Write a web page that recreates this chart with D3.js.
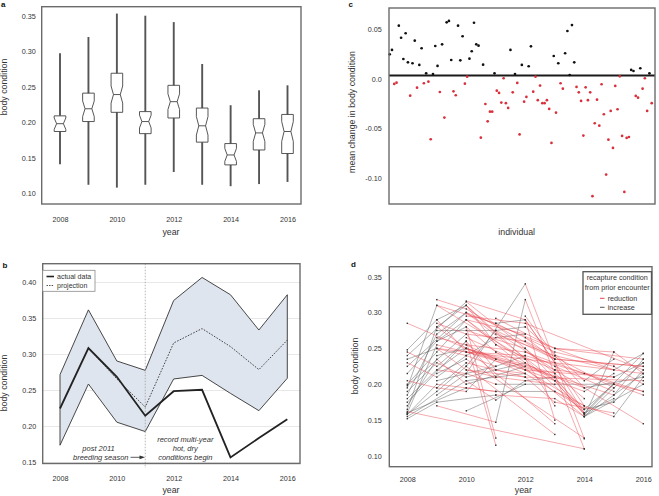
<!DOCTYPE html>
<html>
<head>
<meta charset="utf-8">
<script src="https://cdn.jsdelivr.net/npm/d3@7"></script>
<style>
  body { margin: 0; background: #fff; }
  svg { display: block; }
</style>
</head>
<body>
<script>
const FONT = '"Liberation Sans", Arial, sans-serif';

// ---- panel a: notched boxes per year ----
const years = [2008, 2009, 2010, 2011, 2012, 2013, 2014, 2015, 2016];
const yearTicks = [2008, 2010, 2012, 2014, 2016];
const boxLow    = [0.141, 0.112, 0.108, 0.112, 0.130, 0.112, 0.110, 0.113, 0.116];
const boxQ1     = [0.187, 0.201, 0.214, 0.184, 0.206, 0.172, 0.140, 0.161, 0.156];
const boxMedian = [0.198, 0.219, 0.239, 0.201, 0.229, 0.195, 0.154, 0.185, 0.187];
const boxQ3     = [0.209, 0.241, 0.269, 0.215, 0.252, 0.220, 0.170, 0.205, 0.211];
const boxHigh   = [0.297, 0.320, 0.353, 0.350, 0.341, 0.282, 0.224, 0.245, 0.252];
const boxNotch  = [0.008, 0.011, 0.012, 0.009, 0.011, 0.013, 0.009, 0.012, 0.014];
const aTicks = [0.10, 0.15, 0.20, 0.25, 0.30, 0.35];

// ---- panel b: actual vs projected ----
const bUpper      = [0.272, 0.362, 0.291, 0.278, 0.375, 0.407, 0.383, 0.334, 0.383];
const bLower      = [0.174, 0.259, 0.206, 0.193, 0.266, 0.271, 0.246, 0.222, 0.267];
const bActual     = [0.225, 0.309, 0.269, 0.215, 0.249, 0.251, 0.157, 0.184, 0.210];
const bProjection = [null, 0.309, 0.266, 0.227, 0.316, 0.336, 0.311, 0.279, 0.320];
const bTicks = [0.15, 0.20, 0.25, 0.30, 0.35, 0.40];

// ---- panel c: mean change per individual (in plotted order) ----
const cValues = [
  0.0248, 0.0292, -0.005, -0.0037, 0.0536, 0.0415, 0.0201, 0.046, 0.0168, -0.0168,
  0.0158, 0.0385, -0.0088, 0.0141, 0.0309, -0.0043, 0.0057, -0.0027, -0.0607, 0.005,
  0.0332, 0.0131, -0.0131, 0.0349, -0.0389, 0.057, 0.0584, 0.0191, -0.0124, -0.0164,
  0.0536, 0.0188, 0.043, -0.0047, 0.0023, 0.0204, 0.0279, 0.0566, 0.0349, 0.0335,
  -0.0591, 0.0144, -0.0252, -0.0426, -0.0329, -0.0329, 0.0057, -0.0118, -0.0141, -0.0238,
  0.0007, -0.0244, -0.0292, 0.0292, -0.0134, 0.005, -0.004, -0.0558, 0.0141, -0.0229,
  -0.0181, 0.0128, 0.0329, -0.0128, 0.0023, -0.0214, -0.0067, -0.0244, -0.0244, -0.0214,
  -0.0302, -0.0644, 0.0231, -0.0339, 0.0158, -0.0043, -0.0098, 0.0259, 0.0483, 0.004,
  0.0543, 0.0168, -0.008, -0.0134, -0.0221, -0.057, -0.0084, -0.0214, -0.0134, -0.118,
  -0.0446, -0.0208, -0.047, -0.0053, -0.0355, -0.0963, -0.0611, -0.0322, -0.0694, -0.007,
  -0.0305, 0.0027, -0.0573, -0.1137, -0.0594, -0.0584, 0.0091, 0.008, -0.0171, -0.0188,
  0.0108, -0.0098, 0.0007, -0.0322, 0.0057, -0.0244
];
const cBaseline = 0.0035;
const cTicks = [-0.10, -0.05, 0, 0.05];
const cTickLabels = ["-0.10", "-0.05", "0.0", "0.05"];

// ---- panel d: recapture tracks, [year, condition] ----
const dTracks = [
  [[2008,0.285],[2010,0.25],[2012,0.22]],
  [[2008,0.248],[2009,0.29],[2010,0.31],[2011,0.255]],
  [[2008,0.245],[2009,0.225],[2010,0.26]],
  [[2008,0.24],[2010,0.315],[2012,0.25]],
  [[2008,0.235],[2009,0.25],[2010,0.22],[2012,0.21]],
  [[2008,0.23],[2009,0.21],[2010,0.24]],
  [[2008,0.225],[2010,0.30],[2013,0.22]],
  [[2008,0.215],[2009,0.26],[2010,0.28],[2011,0.245]],
  [[2008,0.205],[2009,0.195],[2010,0.23]],
  [[2008,0.20],[2009,0.245],[2010,0.29],[2012,0.23]],
  [[2008,0.198],[2010,0.27],[2011,0.22]],
  [[2008,0.195],[2009,0.31],[2012,0.235]],
  [[2008,0.19],[2009,0.23],[2010,0.21]],
  [[2008,0.185],[2009,0.27],[2010,0.30],[2013,0.205]],
  [[2008,0.18],[2009,0.22],[2010,0.25],[2012,0.215]],
  [[2008,0.175],[2010,0.26],[2011,0.21]],
  [[2008,0.17],[2009,0.235],[2010,0.20]],
  [[2008,0.165],[2009,0.28],[2010,0.31],[2014,0.16]],
  [[2008,0.162],[2014,0.11]],
  [[2008,0.16],[2009,0.255],[2010,0.245],[2012,0.225]],
  [[2008,0.158],[2009,0.20],[2011,0.19]],
  [[2008,0.155],[2010,0.205],[2012,0.215]],
  [[2008,0.152],[2009,0.175],[2011,0.185]],
  [[2008,0.16],[2010,0.195]],
  [[2008,0.158],[2009,0.19],[2010,0.225]],
  [[2009,0.318],[2010,0.305],[2013,0.235],[2016,0.225]],
  [[2009,0.31],[2011,0.285],[2013,0.245],[2015,0.225]],
  [[2009,0.285],[2010,0.27],[2012,0.26]],
  [[2009,0.275],[2011,0.275],[2012,0.28]],
  [[2009,0.265],[2010,0.255],[2011,0.235]],
  [[2009,0.26],[2010,0.29],[2012,0.27]],
  [[2009,0.25],[2012,0.235],[2016,0.215]],
  [[2009,0.24],[2010,0.25],[2013,0.215]],
  [[2009,0.22],[2010,0.215],[2011,0.20]],
  [[2009,0.215],[2010,0.235]],
  [[2009,0.205],[2011,0.225],[2012,0.24]],
  [[2009,0.185],[2010,0.215]],
  [[2009,0.17],[2011,0.147],[2012,0.318],[2014,0.11]],
  [[2009,0.29],[2010,0.245],[2012,0.24]],
  [[2009,0.28],[2010,0.25],[2013,0.21]],
  [[2009,0.25],[2010,0.24],[2011,0.225]],
  [[2009,0.195],[2010,0.19],[2011,0.235]],
  [[2010,0.316],[2012,0.29],[2014,0.17]],
  [[2010,0.31],[2011,0.27],[2013,0.24]],
  [[2010,0.30],[2013,0.25],[2015,0.245]],
  [[2010,0.295],[2012,0.285],[2016,0.22]],
  [[2010,0.29],[2014,0.155],[2015,0.195]],
  [[2010,0.28],[2011,0.125]],
  [[2010,0.275],[2012,0.25],[2014,0.165],[2015,0.20]],
  [[2010,0.265],[2013,0.21],[2014,0.195]],
  [[2010,0.26],[2011,0.115]],
  [[2010,0.255],[2012,0.245],[2013,0.225],[2014,0.16]],
  [[2010,0.25],[2013,0.145]],
  [[2010,0.245],[2012,0.22],[2015,0.21]],
  [[2010,0.24],[2011,0.265],[2012,0.27]],
  [[2010,0.235],[2014,0.125]],
  [[2010,0.23],[2012,0.21],[2016,0.205]],
  [[2010,0.225],[2013,0.13]],
  [[2010,0.22],[2011,0.21],[2013,0.20]],
  [[2010,0.215],[2012,0.34],[2014,0.124]],
  [[2010,0.21],[2012,0.23],[2013,0.205],[2014,0.158]],
  [[2010,0.205],[2011,0.178],[2012,0.205]],
  [[2010,0.20],[2012,0.225],[2015,0.185],[2016,0.215]],
  [[2010,0.195],[2011,0.19],[2013,0.19]],
  [[2011,0.20],[2015,0.20]],
  [[2010,0.163],[2012,0.20]],
  [[2010,0.225],[2011,0.275],[2013,0.235]],
  [[2011,0.292],[2013,0.25],[2016,0.235]],
  [[2011,0.285],[2012,0.29],[2013,0.23]],
  [[2011,0.255],[2013,0.22],[2015,0.21]],
  [[2011,0.245],[2014,0.17]],
  [[2011,0.22],[2012,0.215],[2014,0.165]],
  [[2011,0.185],[2013,0.18],[2014,0.155],[2016,0.20]],
  [[2012,0.295],[2013,0.24],[2015,0.22]],
  [[2012,0.28],[2014,0.205],[2015,0.235]],
  [[2012,0.265],[2013,0.235],[2016,0.225]],
  [[2012,0.26],[2015,0.195],[2016,0.23]],
  [[2012,0.25],[2013,0.215],[2014,0.18]],
  [[2012,0.24],[2016,0.19]],
  [[2012,0.235],[2013,0.17]],
  [[2012,0.22],[2014,0.19],[2015,0.215]],
  [[2012,0.21],[2013,0.175],[2015,0.16]],
  [[2012,0.205],[2013,0.21],[2014,0.16],[2015,0.18]],
  [[2012,0.29],[2013,0.15]],
  [[2012,0.245],[2014,0.215],[2016,0.185]],
  [[2013,0.25],[2015,0.22],[2016,0.243]],
  [[2013,0.24],[2014,0.195],[2016,0.21]],
  [[2013,0.225],[2015,0.19]],
  [[2013,0.22],[2016,0.145]],
  [[2013,0.205],[2014,0.158],[2015,0.20]],
  [[2013,0.19],[2014,0.17],[2015,0.155],[2016,0.21]],
  [[2014,0.155],[2015,0.245],[2016,0.215]],
  [[2014,0.16],[2016,0.243]],
  [[2014,0.165],[2015,0.175],[2016,0.22]],
  [[2014,0.155],[2015,0.185],[2016,0.235]],
  [[2015,0.21],[2016,0.23]],
  [[2015,0.225],[2016,0.20]],
  [[2015,0.20],[2016,0.19]]
];
const dTicks = [0.10, 0.15, 0.20, 0.25, 0.30, 0.35];

const RED = "#d8303c";
const TEXT = "#333";

const svg = d3.select("body").append("svg")
  .attr("width", 659).attr("height", 496)
  .style("font-family", FONT);

// --- helpers ---
function frame(x0, y0, x1, y1) {
  svg.append("rect")
    .attr("x", x0).attr("y", y0).attr("width", x1 - x0).attr("height", y1 - y0)
    .attr("fill", "none").attr("stroke", "#6b6b6b").attr("stroke-width", 1.4);
}

function styleAxis(g, size) {
  g.attr("font-family", FONT).attr("font-size", size);
  g.select(".domain").remove();
  g.selectAll("text").attr("fill", TEXT);
}

function leftAxis(y, x, ticks, pad, fmt) {
  const ax = d3.axisLeft(y).tickValues(ticks).tickSize(0).tickPadding(pad);
  ax.tickFormat(fmt || d3.format(".2f"));
  const g = svg.append("g").attr("transform", `translate(${x},0)`).call(ax);
  styleAxis(g, 7.2);
}

function bottomAxis(x, y, pad) {
  const ax = d3.axisBottom(x).tickValues(yearTicks).tickFormat(d3.format("d")).tickSize(0).tickPadding(pad);
  const g = svg.append("g").attr("transform", `translate(0,${y})`).call(ax);
  styleAxis(g, 7.2);
}

function title(text, x, y, rotate) {
  svg.append("text")
    .attr("transform", `translate(${x},${y})` + (rotate ? " rotate(-90)" : ""))
    .attr("text-anchor", "middle").attr("dy", "0.35em")
    .attr("font-size", 8.8).attr("fill", TEXT)
    .text(text);
}

function panelLabel(t, x, y) {
  svg.append("text").attr("x", x).attr("y", y)
    .attr("font-size", 8).attr("font-weight", "bold").attr("fill", "#111").text(t);
}

// ================= panel a =================
const xA = d3.scaleLinear().domain([2008, 2016]).range([60, 287.5]);
const yA = d3.scaleLinear().domain([0.10, 0.35]).range([193.3, 15.7]);
frame(41.7, 6.7, 301, 204);
leftAxis(yA, 41.7, aTicks, 6);
bottomAxis(xA, 204, 13);
title("body condition", 4, 87, true);
title("year", 171, 232, false);
panelLabel("a", 1, 6.5);

const boxes = years.map((yr, i) => ({
  yr, lo: boxLow[i], q1: boxQ1[i], med: boxMedian[i], q3: boxQ3[i], hi: boxHigh[i], n: boxNotch[i]
}));
const bw = 5.8, nd = 2.4;
const gA = svg.append("g");
gA.selectAll("line.wh").data(boxes).join("line")
  .attr("x1", d => xA(d.yr)).attr("x2", d => xA(d.yr))
  .attr("y1", d => yA(d.lo)).attr("y2", d => yA(d.hi))
  .attr("stroke", "#555").attr("stroke-width", 1.9);
gA.selectAll("path.box").data(boxes).join("path")
  .attr("d", d => {
    const cx = xA(d.yr), l = cx - bw, r = cx + bw;
    const p = d3.path();
    p.moveTo(l, yA(d.q3)); p.lineTo(r, yA(d.q3));
    p.lineTo(r, yA(d.med + d.n)); p.lineTo(r - nd, yA(d.med)); p.lineTo(r, yA(d.med - d.n));
    p.lineTo(r, yA(d.q1)); p.lineTo(l, yA(d.q1));
    p.lineTo(l, yA(d.med - d.n)); p.lineTo(l + nd, yA(d.med)); p.lineTo(l, yA(d.med + d.n));
    p.closePath();
    return p.toString();
  })
  .attr("fill", "#fff").attr("stroke", "#444").attr("stroke-width", 0.9);
gA.selectAll("line.med").data(boxes).join("line")
  .attr("x1", d => xA(d.yr) - bw + nd).attr("x2", d => xA(d.yr) + bw - nd)
  .attr("y1", d => yA(d.med)).attr("y2", d => yA(d.med))
  .attr("stroke", "#444").attr("stroke-width", 0.9);

// ================= panel b =================
const xB = d3.scaleLinear().domain([2008, 2016]).range([60, 287.3]);
const yB = d3.scaleLinear().domain([0.15, 0.40]).range([462.5, 282.5]);
const bTop = 263.7, bBottom = 463.5;
svg.append("g").selectAll("line").data(bTicks).join("line")
  .attr("x1", 42.7).attr("x2", 300).attr("y1", d => yB(d)).attr("y2", d => yB(d))
  .attr("stroke", "#e2e2e2").attr("stroke-width", 0.8);

const band = years.map((yr, i) => ({ yr, hi: bUpper[i], lo: bLower[i] }));
svg.append("path").datum(band)
  .attr("d", d3.area().x(d => xB(d.yr)).y0(d => yB(d.lo)).y1(d => yB(d.hi)))
  .attr("fill", "#dfe5ee").attr("stroke", "#333").attr("stroke-width", 0.9)
  .attr("stroke-linejoin", "miter");

svg.append("line")
  .attr("x1", xB(2011)).attr("x2", xB(2011)).attr("y1", bTop).attr("y2", 468)
  .attr("stroke", "#999").attr("stroke-width", 0.7).attr("stroke-dasharray", "1.5,1.5");

const lineB = d3.line().defined(d => d[1] != null).x(d => xB(d[0])).y(d => yB(d[1]));
svg.append("path").datum(years.map((yr, i) => [yr, bProjection[i]]))
  .attr("d", lineB).attr("fill", "none").attr("stroke", "#333")
  .attr("stroke-width", 0.9).attr("stroke-dasharray", "1.6,1.4");
svg.append("path").datum(years.map((yr, i) => [yr, bActual[i]]))
  .attr("d", lineB).attr("fill", "none").attr("stroke", "#222").attr("stroke-width", 1.8);

frame(42.7, bTop, 300, bBottom);
leftAxis(yB, 42.7, bTicks, 6.5);
bottomAxis(xB, bBottom, 12.5);
title("body condition", 4, 383, true);
title("year", 171, 490, false);
panelLabel("b", 2.5, 267.5);

// legend b
const lgB = svg.append("g").attr("font-size", 7).attr("fill", TEXT);
lgB.append("rect").attr("x", 42.7).attr("y", 270.3).attr("width", 52.3).attr("height", 21)
  .attr("fill", "#fff").attr("stroke", "#8a8a8a").attr("stroke-width", 0.8);
lgB.append("line").attr("x1", 46.5).attr("x2", 54).attr("y1", 276.5).attr("y2", 276.5)
  .attr("stroke", "#222").attr("stroke-width", 1.6);
lgB.append("line").attr("x1", 46.5).attr("x2", 54).attr("y1", 285.5).attr("y2", 285.5)
  .attr("stroke", "#333").attr("stroke-width", 0.9).attr("stroke-dasharray", "1.4,1.2");
lgB.append("text").attr("x", 57).attr("y", 279).attr("fill", TEXT).text("actual data");
lgB.append("text").attr("x", 57).attr("y", 288).attr("fill", TEXT).text("projection");

// annotations b
const ann = svg.append("g").attr("font-size", 7.5).attr("font-style", "italic").attr("fill", TEXT);
ann.append("text").attr("x", 98.5).attr("y", 450.8).attr("text-anchor", "middle").text("post 2011");
ann.append("text").attr("x", 128.5).attr("y", 459.8).attr("text-anchor", "end").text("breeding season");
[["record multi-year", 441.6], ["hot, dry", 450.8], ["conditions begin", 459.8]].forEach(([t, y]) =>
  ann.append("text").attr("x", 185.3).attr("y", y).attr("text-anchor", "middle").text(t));
svg.append("line").attr("x1", 130.5).attr("x2", 143).attr("y1", 457.3).attr("y2", 457.3)
  .attr("stroke", "#333").attr("stroke-width", 0.8);
svg.append("path").attr("d", "M139.5,455.4 L145,457.3 L139.5,459.2 Z").attr("fill", "#333");

// ================= panel c =================
const xC = d3.scaleLinear().domain([0, cValues.length - 1]).range([389.7, 651.7]);
const yC = d3.scaleLinear().domain([-0.10, 0.05]).range([178.3, 29.3]);
svg.append("line")
  .attr("x1", 389).attr("x2", 655).attr("y1", yC(cBaseline)).attr("y2", yC(cBaseline))
  .attr("stroke", "#1a1a1a").attr("stroke-width", 1.8);
svg.append("g").selectAll("circle").data(cValues).join("circle")
  .attr("cx", (d, i) => xC(i)).attr("cy", d => yC(d)).attr("r", 1.35)
  .attr("fill", d => d >= cBaseline ? "#111" : RED);
frame(389, 8, 655, 204);
leftAxis(yC, 389, cTicks, 7.3, d => cTickLabels[cTicks.indexOf(d)]);
title("mean change in body condition", 352, 112, true);
title("individual", 516.7, 231.7, false);
panelLabel("c", 348.5, 6.5);

// ================= panel d =================
const xD = d3.scaleLinear().domain([2008, 2016]).range([407.3, 643.3]);
const yD = d3.scaleLinear().domain([0.10, 0.35]).range([456, 276.7]);
const segs = [];
dTracks.forEach(tr => {
  for (let i = 1; i < tr.length; i++) {
    segs.push({ a: tr[i - 1], b: tr[i], drop: tr[i][1] < tr[i - 1][1] });
  }
});
const gD = svg.append("g");
gD.selectAll("line.seg").data(segs.filter(s => !s.drop).concat(segs.filter(s => s.drop))).join("line")
  .attr("x1", d => xD(d.a[0])).attr("y1", d => yD(d.a[1]))
  .attr("x2", d => xD(d.b[0])).attr("y2", d => yD(d.b[1]))
  .attr("stroke", d => d.drop ? "#e8434d" : "#555")
  .attr("stroke-opacity", 0.75)
  .attr("stroke-width", 0.6);
gD.selectAll("rect.pt").data(dTracks.flat()).join("rect")
  .attr("x", d => xD(d[0]) - 0.7).attr("y", d => yD(d[1]) - 0.7)
  .attr("width", 1.4).attr("height", 1.4).attr("fill", "#333");

frame(389.3, 266.7, 652, 466.7);
leftAxis(yD, 389.3, dTicks, 7.6);
bottomAxis(xD, 466.7, 9.8);
title("body condition", 354.5, 366, true);
title("year", 523.3, 490, false);
panelLabel("d", 351, 267);

// legend d
const lgD = svg.append("g").attr("font-size", 7.2).attr("fill", TEXT);
lgD.append("rect").attr("x", 583).attr("y", 271.7).attr("width", 68.5).attr("height", 42.6)
  .attr("fill", "#fff").attr("stroke", "#555").attr("stroke-width", 1.3);
lgD.append("text").attr("x", 617.2).attr("y", 280.3).attr("text-anchor", "middle").text("recapture condition");
lgD.append("text").attr("x", 617.2).attr("y", 289.6).attr("text-anchor", "middle").text("from prior encounter");
lgD.append("line").attr("x1", 600).attr("x2", 604.5).attr("y1", 298.3).attr("y2", 298.3)
  .attr("stroke", "#e8434d").attr("stroke-width", 1);
lgD.append("line").attr("x1", 600).attr("x2", 604.5).attr("y1", 307.3).attr("y2", 307.3)
  .attr("stroke", "#555").attr("stroke-width", 1);
lgD.append("text").attr("x", 607.7).attr("y", 300.8).text("reduction");
lgD.append("text").attr("x", 607.7).attr("y", 309.8).text("increase");
</script>
</body>
</html>
